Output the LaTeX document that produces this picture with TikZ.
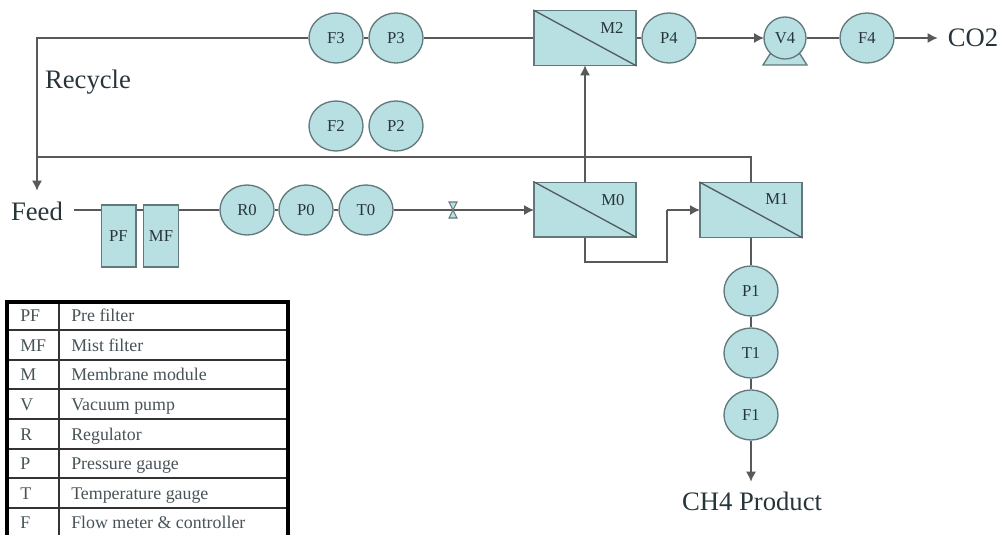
\documentclass[tikz,border=0pt]{standalone}
\usepackage{fontspec}
\setmainfont{Liberation Serif}
\usetikzlibrary{shapes.geometric,arrows.meta,backgrounds,calc}
\definecolor{teal}{HTML}{B8DFE2}
\definecolor{edge}{HTML}{62797C}
\definecolor{pipe}{HTML}{595959}
\definecolor{ink}{HTML}{27353A}
\tikzset{
  gauge/.style={ellipse,draw=edge,fill=teal,line width=1pt,minimum width=40.5pt,minimum height=37.5pt,inner sep=0pt,text=ink,font=\fontsize{12.5}{14}\selectfont},
  pump/.style={gauge,minimum width=31.5pt,minimum height=31.5pt},
  module/.style={rectangle,draw=edge,fill=teal,line width=1pt,minimum width=76.5pt,minimum height=41pt,inner sep=0pt},
  filterbox/.style={rectangle,draw=edge,fill=teal,line width=1pt,minimum width=26pt,minimum height=46.5pt,inner sep=0pt,text=ink,font=\fontsize{12.5}{14}\selectfont},
  mlabel/.style={inner sep=0pt,text=ink,font=\fontsize{12.5}{14}\selectfont},
  pipeline/.style={draw=pipe,line width=1pt},
  flow/.style={pipeline,-{Latex[length=7.5pt,width=7.5pt]},shorten >=-0.5pt},
  biglabel/.style={inner sep=0pt,text=ink,font=\fontsize{20}{23}\selectfont},
  cell/.style={inner sep=0pt,anchor=base west,text=ink!85,font=\fontsize{13.4}{15}\selectfont},
  rule/.style={draw=black!80,line width=1pt},
  frame/.style={draw=black,line width=2.6pt}
}
\begin{document}
\begin{tikzpicture}[x=0.75pt,y=-0.75pt]
\useasboundingbox (0,0) rectangle (1000,535);
\clip (0,0) rectangle (1000,535);
% gauges
\node[gauge] (F3) at (336,38) {F3};
\node[gauge] (P3) at (396,38) {P3};
\node[gauge] (F2) at (336,126) {F2};
\node[gauge] (P2) at (396,126) {P2};
\node[gauge] (P4) at (669,38) {P4};
\node[gauge] (F4) at (867,38) {F4};
\node[gauge] (R0) at (247,210) {R0};
\node[gauge] (P0) at (306,210) {P0};
\node[gauge] (T0) at (366,210) {T0};
\node[gauge] (P1) at (751,291) {P1};
\node[gauge] (T1) at (751,353) {T1};
\node[gauge] (F1) at (751,415) {F1};
% pump
\fill[teal,draw=edge,line width=1pt] (763,65) -- (770,54) -- (800,54) -- (807,65) -- cycle;
\node[pump] (V4) at (785,38) {V4};
% filters
\node[filterbox] (PF) at (118.5,236) {PF};
\node[filterbox] (MF) at (161,236) {MF};
% membranes
\node[module] (M2) at (585,38) {};
\node[module] (M0) at (585,209.5) {};
\node[module] (M1) at (751,210) {};
\foreach \m in {M0,M1,M2} \draw[draw=ink!80,line width=1pt] (\m.north west) -- (\m.south east);
\node[mlabel] (M2t) at (612,28) {M2};
\node[mlabel] (M0t) at (613,200) {M0};
\node[mlabel] (M1t) at (777,199) {M1};
% valve
\node[inner sep=0pt,minimum size=0pt] (valve) at (453,210) {};
\draw[draw=edge,fill=teal,line width=.8pt] (449,202) -- (457,202) -- (449,218) -- (457,218) -- cycle;
% labels
\node[biglabel] (feed) at (37,211) {Feed};
\node[biglabel] (recycle) at (88,82) {Recycle};
\node[biglabel] (co2) at (973,38) {CO2};
\node[biglabel] (ch4) at (752,501) {CH4 Product};
% free ends
\coordinate (feedout) at (74,210);
\coordinate (corner) at (37,38);
\coordinate (feedin) at (37,190);
\coordinate (tee) at (37,157);
\coordinate (co2in) at (937,38);
\coordinate (ch4in) at (751,481);
\coordinate (bend1) at (585,262);
\coordinate (bend2) at (667,262);
\coordinate (bend3) at (667,210);
\coordinate (over) at (751,157);
\begin{pgfonlayer}{background}
\draw[pipeline] (F3.east) -- (P3.west);
\draw[pipeline] (P3.east) -- (M2.west);
\draw[flow] (F3.west) -- (corner) -- (feedin);
\draw[pipeline] (tee) -- (over) -- (M1.north);
\draw[flow] (M0.north) -- (M2.south);
\draw[pipeline] (M2.east) -- (P4.west);
\draw[flow] (P4.east) -- (V4.west);
\draw[pipeline] (V4.east) -- (F4.west);
\draw[flow] (F4.east) -- (co2in);
\draw[pipeline] (feedout) -- (feedout -| PF.west);
\draw[pipeline] (feedout -| PF.east) -- (feedout -| MF.west);
\draw[pipeline] (feedout -| MF.east) -- (R0.west);
\draw[pipeline] (R0.east) -- (P0.west);
\draw[pipeline] (P0.east) -- (T0.west);
\draw[pipeline] (T0.east) -- (valve);
\draw[flow] (valve) -- (valve -| M0.west);
\draw[pipeline] (M0.south) -- (bend1) -- (bend2) -- (bend3);
\draw[flow] (bend3) -- (bend3 -| M1.west);
\draw[pipeline] (M1.south) -- (P1.north);
\draw[pipeline] (P1.south) -- (T1.north);
\draw[pipeline] (T1.south) -- (F1.north);
\draw[flow] (F1.south) -- (ch4in);
\end{pgfonlayer}
% legend
\foreach \y in {330,360,389,419,449,478,508} \draw[rule] (8,\y) -- (288,\y);
\draw[rule,line width=1.2pt] (59,302) -- (59,535);
\draw[frame] (7,545) -- (7,302) -- (288,302) -- (288,545);
\foreach \n/\y/\a/\b in {a/321/PF/Pre filter,b/351/MF/Mist filter,c/380/M/Membrane module,d/410/V/Vacuum pump,e/440/R/Regulator,f/469/P/Pressure gauge,g/499/T/Temperature gauge,h/528/F/Flow meter \& controller}{
  \node[cell] (k\n) at (20,\y) {\a};
  \node[cell] (v\n) at (71,\y) {\b};
}
\end{tikzpicture}
\end{document}
